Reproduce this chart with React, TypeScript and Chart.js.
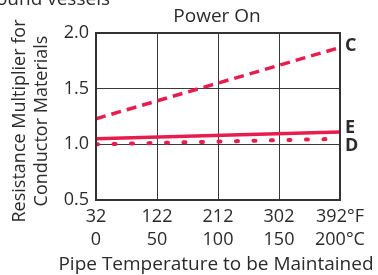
import React, { useEffect, useRef } from "react";
import { Chart, registerables } from "chart.js";

Chart.register(...registerables);

const tempF = [32, 392];
const xTicksF = ["32", "122", "212", "302", "392°F"];
const xTicksC = ["0", "50", "100", "150", "200°C"];
const seriesC = [1.23, 1.87];
const seriesE = [1.05, 1.11];
const seriesD = [1.0, 1.05];
const seriesLabels = ["C", "E", "D"];

const RED = "#e71d4e";
const TEXT = "#2b2b2b";
const FONT = "'Open Sans', 'DejaVu Sans', sans-serif";

const annot = {
  id: "annot",
  afterDraw(chart: any) {
    const ctx = chart.ctx;
    const a = chart.chartArea;
    ctx.save();
    // plot frame
    ctx.strokeStyle = "#333";
    ctx.lineWidth = 2;
    ctx.strokeRect(a.left, a.top, a.right - a.left, a.bottom - a.top);
    ctx.fillStyle = TEXT;
    ctx.font = `19px ${FONT}`;
    ctx.textBaseline = "alphabetic";
    ctx.textAlign = "right";
    ctx.fillText("Round vessels", 110, 5);
    ctx.textAlign = "center";
    ctx.textBaseline = "middle";
    ctx.fillText("Power On", 217, 17);
    ctx.fillText("Pipe Temperature to be Maintained", 216, 265);
    // y title
    ctx.font = `18px ${FONT}`;
    ctx.save();
    ctx.translate(20, 121);
    ctx.rotate(-Math.PI / 2);
    ctx.fillText("Resistance Multiplier for", 0, 0);
    ctx.fillText("Conductor Materials", 0, 22);
    ctx.restore();
    // series labels
    ctx.font = `bold 18px ${FONT}`;
    ctx.textAlign = "left";
    const ys = chart.scales.y;
    const ends = [seriesC[1], seriesE[1], seriesD[1]];
    const offs = [-2, -4, 7];
    seriesLabels.forEach((l, i) => {
      ctx.fillText(l, a.right + 5, ys.getPixelForValue(ends[i]) + offs[i]);
    });
    ctx.restore();
  },
};

export default function App() {
  const ref = useRef<HTMLCanvasElement>(null);
  useEffect(() => {
    const mk = (arr: number[]) => tempF.map((x, i) => ({ x, y: arr[i] }));
    const chart = new Chart(ref.current!, {
      type: "line",
      data: {
        datasets: [
          {
            label: "C",
            data: mk(seriesC),
            borderColor: RED,
            borderWidth: 3.5,
            borderDash: [10, 6],
            pointRadius: 0,
          },
          {
            label: "E",
            data: mk(seriesE),
            borderColor: RED,
            borderWidth: 3.5,
            pointRadius: 0,
          },
          {
            label: "D",
            data: mk(seriesD),
            borderColor: RED,
            borderWidth: 4,
            borderDash: [2, 15.5],
            borderCapStyle: "round",
            pointRadius: 0,
          },
        ],
      },
      options: {
        animation: false,
        responsive: false,
        layout: { padding: { top: 33, right: 38, left: 0, bottom: 0 } },
        plugins: { legend: { display: false }, tooltip: { enabled: false } },
        scales: {
          x: {
            type: "linear",
            min: 32,
            max: 392,
            afterBuildTicks: (s: any) => {
              s.ticks = [32, 122, 212, 302, 392].map((v) => ({ value: v }));
            },
            afterFit: (s: any) => {
              s.height = 75;
            },
            grid: { color: "#3a3a3a", lineWidth: 1, drawTicks: false },
            border: { display: false },
            ticks: {
              color: TEXT,
              font: { family: FONT, size: 18, lineHeight: 1.3 },
              padding: 5,
              maxRotation: 0,
              autoSkip: false,
              callback: (_v: any, i: number) => [xTicksF[i], xTicksC[i]],
            },
          },
          y: {
            min: 0.5,
            max: 2.0,
            afterFit: (s: any) => {
              s.width = 96;
            },
            grid: { color: "#3a3a3a", lineWidth: 1, drawTicks: false },
            border: { display: false },
            ticks: {
              stepSize: 0.5,
              color: TEXT,
              font: { family: FONT, size: 18 },
              padding: 7,
              callback: (v: any) => Number(v).toFixed(1),
            },
          },
        },
      },
      plugins: [annot],
    });
    return () => chart.destroy();
  }, []);
  return (
    <div style={{ position: "absolute", left: 0, top: 0, width: 378, height: 275, background: "#fff" }}>
      <canvas ref={ref} width={378} height={275} />
    </div>
  );
}
